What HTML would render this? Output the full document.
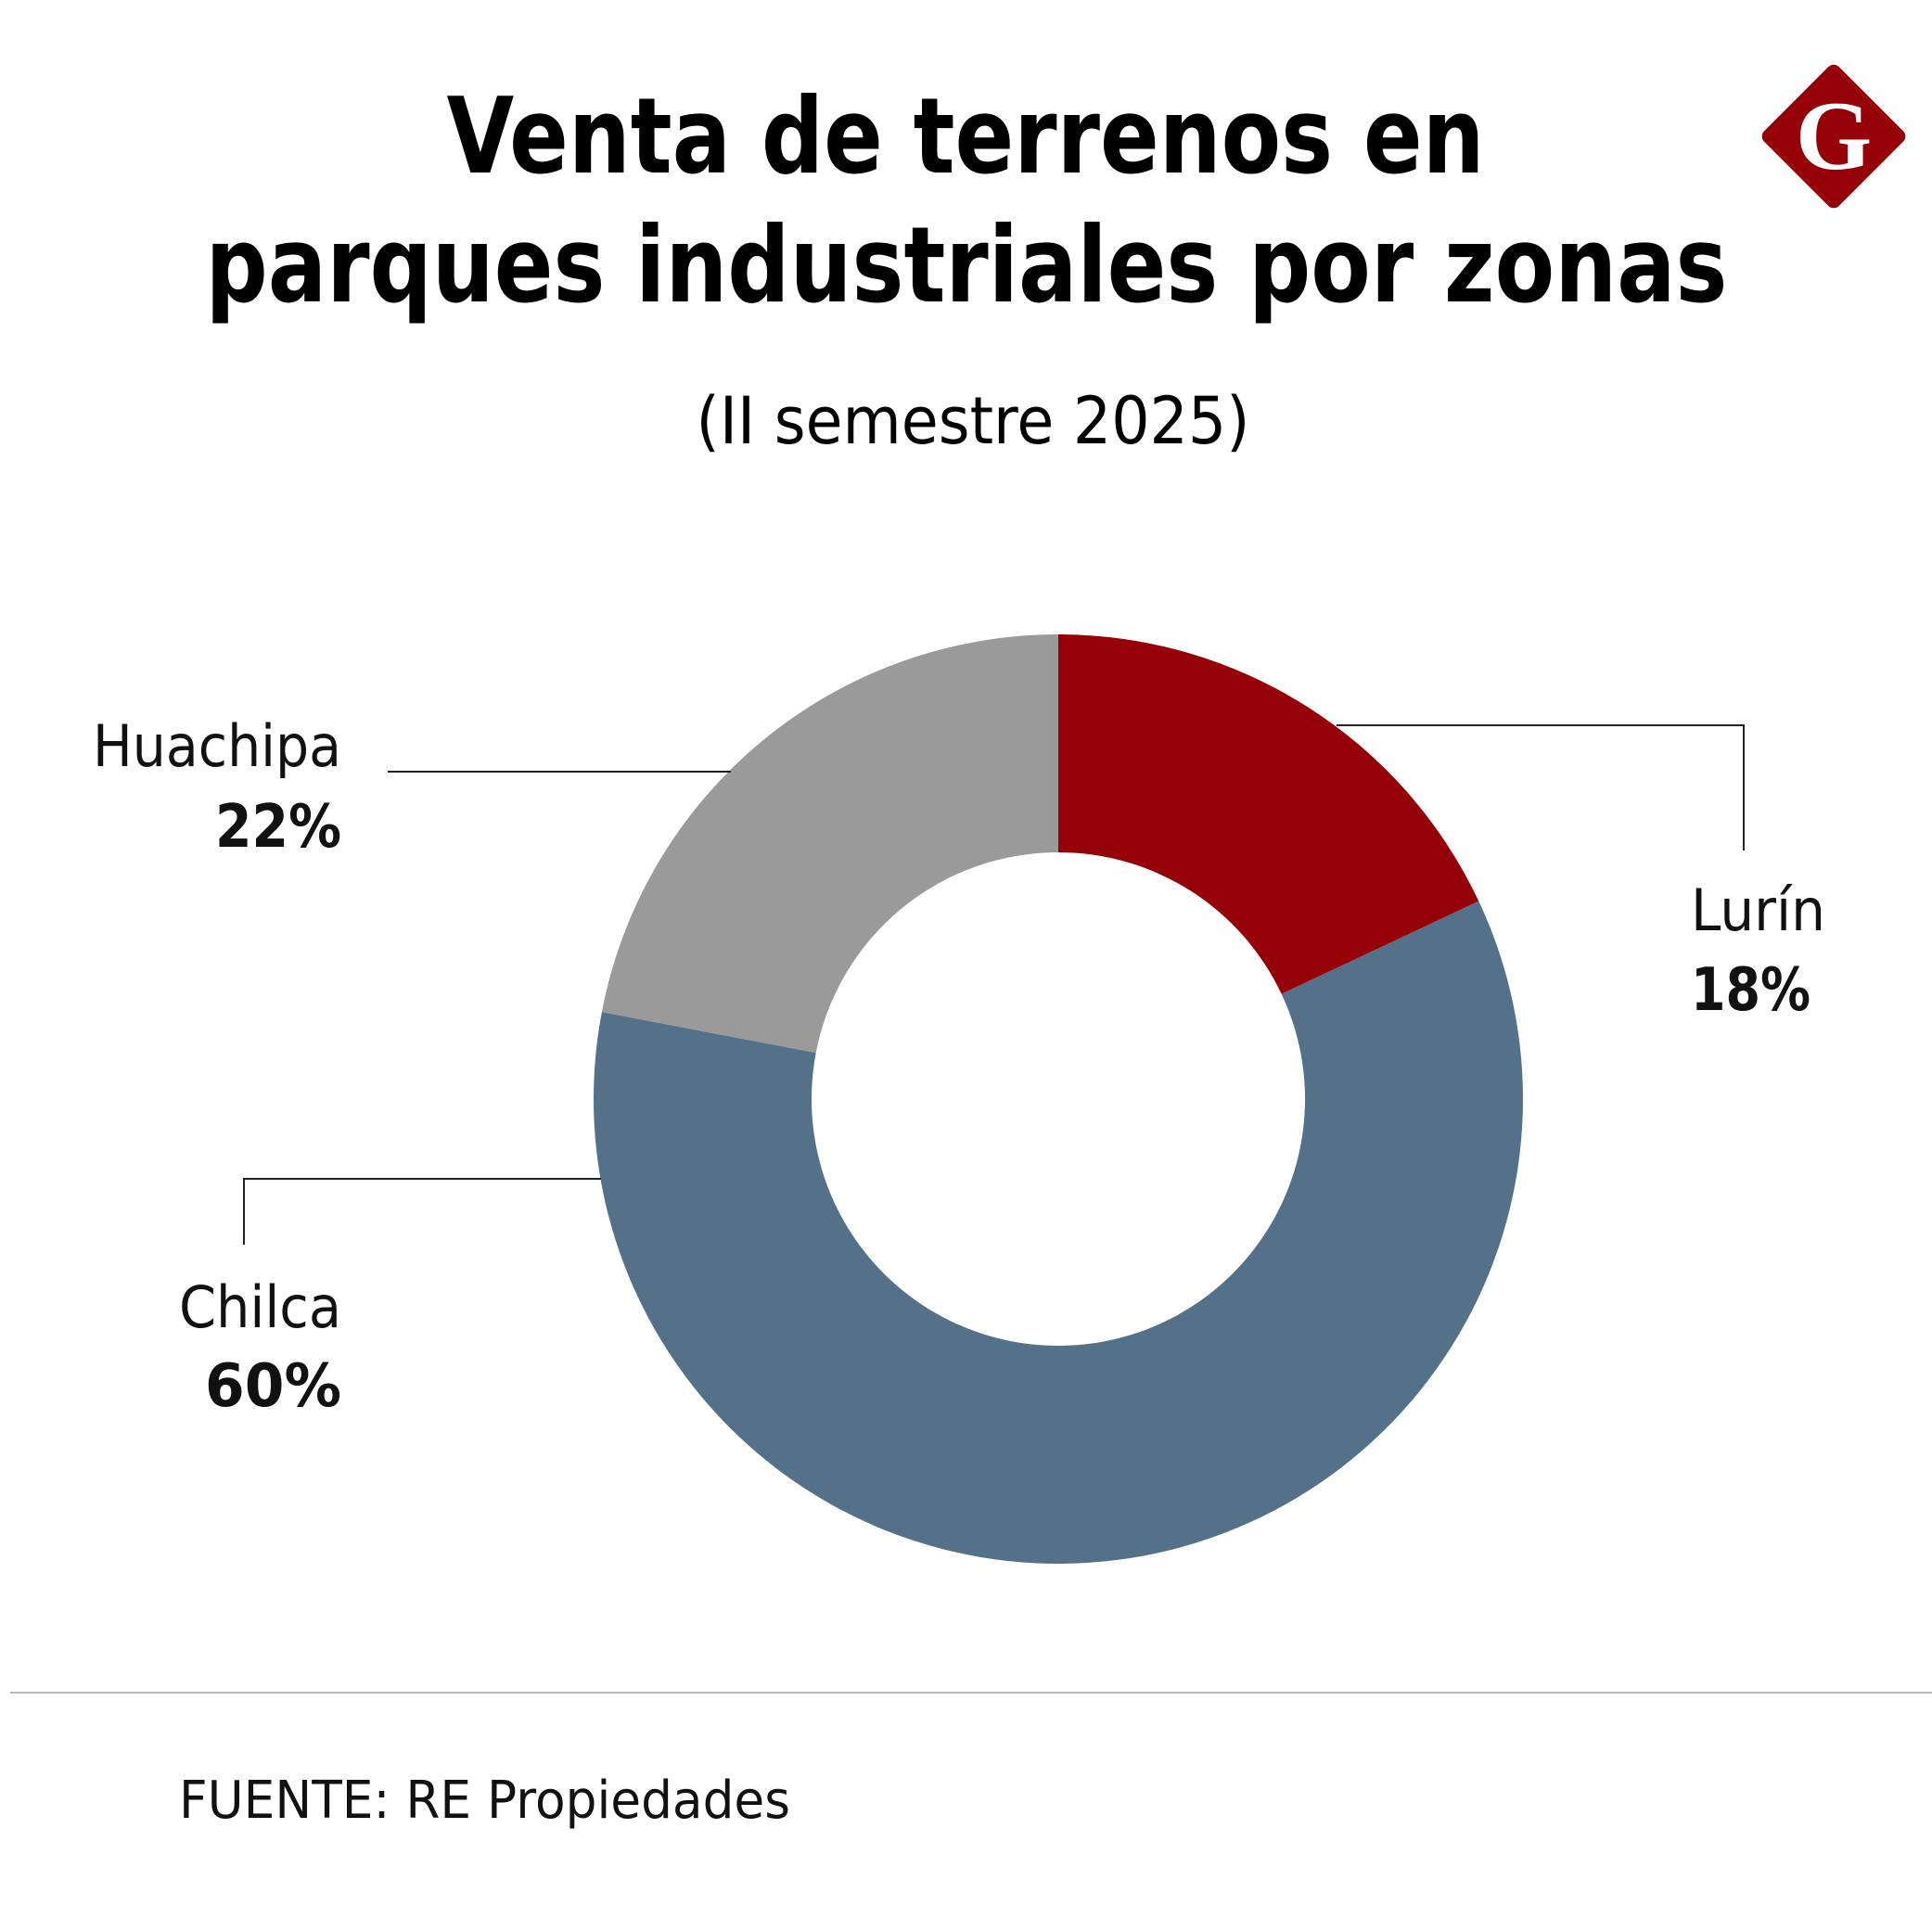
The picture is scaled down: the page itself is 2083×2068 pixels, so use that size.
<!DOCTYPE html>
<html><head><meta charset="utf-8"><style>
html,body{margin:0;padding:0;background:#fff;}
svg{display:block;font-family:"DejaVu Sans","Liberation Sans",sans-serif;}
</style></head><body>
<svg id="chart" width="2083" height="2068" viewBox="0 0 2083 2068" xmlns="http://www.w3.org/2000/svg">
<rect width="2083" height="2068" fill="#fff"/>
<text x="1041" y="186" text-anchor="middle" font-weight="bold" font-size="113" textLength="1119" lengthAdjust="spacingAndGlyphs">Venta de terrenos en</text>
<text x="1042" y="325" text-anchor="middle" font-weight="bold" font-size="113" textLength="1641" lengthAdjust="spacingAndGlyphs">parques industriales por zonas</text>
<text x="1049" y="478" text-anchor="middle" font-size="70" textLength="597" lengthAdjust="spacingAndGlyphs">(II semestre 2025)</text>
<g>
<rect x="1920" y="90" width="114" height="114" rx="8" fill="#960008" transform="rotate(45 1977 147)"/>
<text x="1977" y="182" text-anchor="middle" font-family="Liberation Serif,serif" font-weight="bold" font-size="106" fill="#fff">G</text>
</g>
<g id="slices"></g>
<g id="labels"></g>
<line x1="11" y1="1825" x2="2083" y2="1825" stroke="#bbb" stroke-width="2"/>
<text x="193" y="1960" font-size="56" fill="#111" textLength="659" lengthAdjust="spacingAndGlyphs">FUENTE: RE Propiedades</text>
</svg>
<script>
const categories = ["Lurín", "Chilca", "Huachipa"];
const values = [18, 60, 22];
const valueLabels = ["18%", "60%", "22%"];
const colors = ["#960008", "#557189", "#9a9a9a"];
const cx = 1141, cy = 1185, R = 501, r = 266;
const NS = "http://www.w3.org/2000/svg";
const total = values.reduce((a,b)=>a+b,0);
function pt(frac, rad){const a=frac*2*Math.PI;return [cx+rad*Math.sin(a), cy-rad*Math.cos(a)];}
const g = document.getElementById("slices");
let acc = 0;
values.forEach((v,i)=>{
  const f0=acc/total, f1=(acc+v)/total; acc+=v;
  const large=(f1-f0)>0.5?1:0;
  const [x0,y0]=pt(f0,R),[x1,y1]=pt(f1,R),[x2,y2]=pt(f1,r),[x3,y3]=pt(f0,r);
  const p=document.createElementNS(NS,"path");
  p.setAttribute("d",`M${x0},${y0} A${R},${R} 0 ${large} 1 ${x1},${y1} L${x2},${y2} A${r},${r} 0 ${large} 0 ${x3},${y3} Z`);
  p.setAttribute("fill",colors[i]);
  
  
  g.appendChild(p);
});
const lg = document.getElementById("labels");
const leaders = [
  {pts:"1441,782 1880,782 1880,917", tx:1823, anchor:"start", y1:1003, y2:1089, w1:145, w2:129},
  {pts:"648,1271 263,1271 263,1342", tx:368, anchor:"end", y1:1431, y2:1516, w1:175, w2:147},
  {pts:"418,832 788,832", tx:368, anchor:"end", y1:826, y2:913, w1:268, w2:136}
];
leaders.forEach((L,i)=>{
  const pl=document.createElementNS(NS,"polyline");
  pl.setAttribute("points",L.pts);pl.setAttribute("fill","none");pl.setAttribute("stroke","#222");pl.setAttribute("stroke-width","2");
  
  
  lg.appendChild(pl);
  const t=document.createElementNS(NS,"text");
  t.setAttribute("x",L.tx);t.setAttribute("y",L.y1);t.setAttribute("text-anchor",L.anchor);t.setAttribute("font-size","62");t.setAttribute("fill","#111");
  t.setAttribute("textLength",L.w1);t.setAttribute("lengthAdjust","spacingAndGlyphs");
  t.textContent=categories[i];
  
  
  lg.appendChild(t);
  const t2=document.createElementNS(NS,"text");
  t2.setAttribute("x",L.tx);t2.setAttribute("y",L.y2);t2.setAttribute("text-anchor",L.anchor);t2.setAttribute("font-size","64");t2.setAttribute("font-weight","bold");t2.setAttribute("fill","#111");
  t2.setAttribute("textLength",L.w2);t2.setAttribute("lengthAdjust","spacingAndGlyphs");
  t2.textContent=valueLabels[i];
  
  
  lg.appendChild(t2);
});
</script>
</body></html>
